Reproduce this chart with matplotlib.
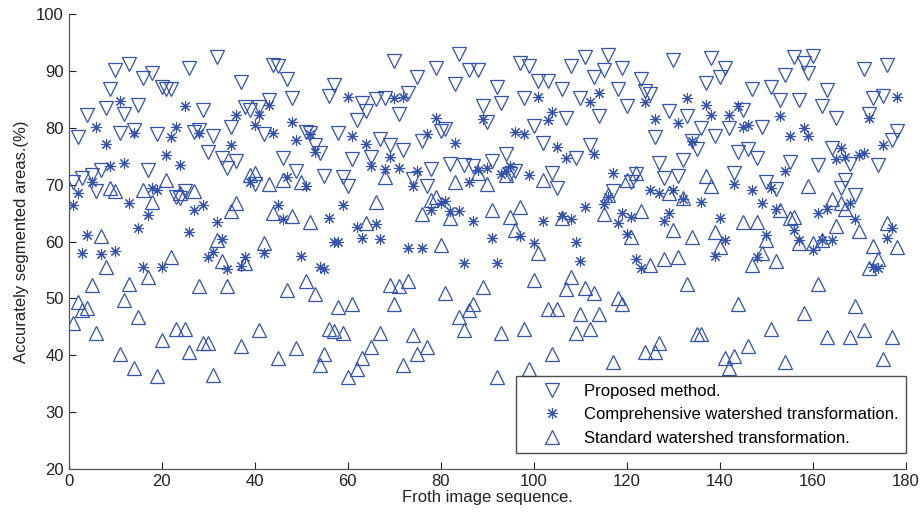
import numpy as np
import matplotlib
matplotlib.use("Agg")
import matplotlib.pyplot as plt

# =========================================================
# DATA
# =========================================================
proposed_x = [1, 2, 3, 4, 5, 6, 7, 8, 9, 10, 11, 12, 13, 14, 15, 16, 17, 18, 19, 20,
              21, 22, 23, 24, 25, 26, 27, 28, 29, 30, 31, 32, 33, 34, 35, 36, 37, 38, 39, 40,
              41, 42, 43, 44, 45, 46, 47, 48, 49, 51, 52, 53, 54, 55, 56, 57, 58, 59, 60,
              61, 62, 63, 64, 65, 66, 67, 68, 69, 70, 71, 72, 73, 74, 75, 76, 77, 78, 79, 80,
              81, 82, 83, 84, 85, 86, 87, 88, 89, 90, 91, 92, 93, 94, 95, 96, 97, 98, 99, 100,
              101, 102, 103, 104, 105, 106, 107, 108, 109, 110, 111, 112, 113, 114, 115, 116,
              117, 118, 119, 120, 121, 122, 123, 124, 125, 126, 127, 128, 129, 130, 131, 132,
              133, 134, 135, 136, 137, 138, 139, 140, 141, 142, 143, 144, 145, 146, 147, 148,
              149, 150, 151, 152, 153, 154, 155, 156, 157, 158, 159, 160, 161, 162, 163, 164,
              165, 166, 167, 168, 169, 171, 172, 173, 174, 175, 176, 177, 178]
proposed_y = [70.5, 78.4, 71.1, 82.3, 71.7, 68.8, 72.6, 83.5, 86.9, 90.2, 79.0, 82.5, 91.3, 79.6,
              84.0, 88.7, 72.6, 89.6, 78.9, 87.2,
              86.9, 86.9, 67.9, 67.6, 68.8, 90.6, 79.3, 79.6, 83.1, 75.8, 78.6, 92.5, 74.7, 72.9,
              80.2, 74.1, 88.1, 83.7, 83.1, 70.2,
              83.7, 78.9, 84.9, 91.0, 90.8, 74.7, 88.5, 85.2, 72.4, 79.3, 79.1, 77.0, 75.5, 71.6,
              85.6, 87.5, 79.1, 71.3, 69.8,
              74.5, 81.4, 84.3, 83.0, 74.9, 85.1, 78.0, 85.2, 77.0, 91.7, 82.4, 76.1, 86.2, 71.0,
              89.0, 77.7, 69.8, 72.7, 90.6, 79.5,
              79.8, 73.7, 87.7, 92.9, 73.5, 90.2, 73.2, 90.2, 83.8, 81.1, 74.1, 87.1, 84.4, 75.4,
              71.8, 72.4, 91.4, 85.2, 90.8, 80.3,
              88.2, 77.4, 88.2, 72.0, 69.5, 86.9, 81.8, 90.8, 74.7, 85.2, 92.5, 76.9, 88.9, 82.1,
              90.2, 92.8,
              68.8, 86.8, 90.5, 83.8, 70.5, 71.8, 88.6, 86.5, 86.0, 78.4, 73.8, 71.1, 83.0, 91.9,
              71.6, 74.3,
              82.1, 77.6, 76.3, 80.0, 87.8, 92.3, 78.6, 89.0, 90.6, 79.9, 72.0, 75.8, 83.1, 76.3,
              86.9, 74.7,
              80.2, 70.4, 87.2, 69.3, 84.9, 89.3, 73.9, 92.5, 84.9, 91.4, 89.7, 92.6, 73.5, 83.8,
              86.6, 76.4,
              81.8, 69.4, 70.8, 73.7, 68.2, 90.3, 82.4, 85.2, 73.5, 85.6, 91.0, 77.8, 79.5]

comprehensive_x = [1, 2, 3, 4, 5, 6, 7, 8, 9, 10, 11, 12, 13, 14, 15, 16, 17, 18, 19, 20,
                   21, 22, 23, 24, 25, 26, 27, 28, 29, 30, 31, 32, 33, 34, 35, 36, 37, 38, 39, 40,
                   41, 42, 43, 44, 45, 46, 47, 48, 49, 50, 51, 52, 53, 54, 55, 56, 57, 58, 59, 60,
                   61, 62, 63, 64, 65, 66, 67, 68, 69, 70, 71, 72, 73, 74, 75, 76, 77, 78, 79, 80,
                   81, 82, 83, 84, 85, 86, 87, 88, 89, 90, 91, 92, 93, 94, 95, 96, 97, 98, 99, 100,
                   101, 102, 103, 104, 105, 106, 107, 108, 109, 110, 111, 112, 113, 114, 115, 116,
                   117, 118, 119, 120, 121, 122, 123, 124, 125, 126, 127, 128, 129, 130, 131, 132,
                   133, 134, 136, 137, 138, 139, 140, 141, 142, 143, 144, 145, 146, 147, 148,
                   149, 150, 151, 152, 153, 154, 155, 156, 157, 158, 159, 160, 161, 162, 163, 164,
                   165, 166, 167, 168, 169, 170, 171, 172, 173, 174, 175, 176, 177, 178]
comprehensive_y = [66.4, 68.5, 57.9, 61.1, 70.5, 80.1, 57.8, 77.2, 73.3, 58.4, 84.8, 73.8, 66.7,
                   79.0, 62.3, 55.6, 64.6, 69.4, 69.1, 55.6,
                   75.2, 78.4, 80.1, 73.5, 83.9, 61.6, 65.5, 79.1, 66.4, 57.3, 58.1, 63.5, 60.4,
                   55.1, 76.9, 82.3, 55.7, 57.2, 70.4, 80.5,
                   82.3, 58.0, 84.0, 79.0, 66.4, 63.9, 71.3, 81.1, 77.9, 57.5, 69.8, 78.9, 75.8,
                   55.6, 55.1, 64.1, 60.0, 60.0, 66.4, 85.5,
                   78.5, 62.6, 60.6, 77.1, 73.3, 63.0, 60.4, 72.7, 74.9, 85.2, 72.9, 85.4, 58.9,
                   69.8, 72.4, 58.9, 78.9, 65.6, 81.7, 66.8,
                   67.1, 65.3, 77.3, 65.4, 56.2, 70.5, 63.7, 72.5, 81.5, 72.9, 60.7, 56.2, 71.8,
                   72.4, 73.2, 79.3, 60.9, 78.9, 71.7, 59.7,
                   85.5, 63.7, 81.4, 82.8, 76.6, 64.5, 74.7, 63.9, 60.0, 56.5, 66.1, 84.6, 75.4,
                   86.1, 66.6, 67.9,
                   72.0, 63.2, 65.0, 61.3, 64.4, 56.9, 55.3, 84.6, 69.0, 81.5, 68.6, 63.7, 65.1,
                   69.1, 80.9, 67.4,
                   85.2, 77.6, 66.9, 84.0, 82.3, 57.5, 64.1, 60.2, 82.3, 70.1, 83.9, 80.2, 80.5,
                   69.0, 57.3,
                   66.7, 61.1, 69.5, 65.8, 82.1, 72.4, 78.6, 62.0, 60.3, 79.9, 78.5, 58.6, 65.1,
                   60.3, 65.7, 60.3,
                   74.5, 76.5, 74.9, 66.8, 63.9, 75.3, 75.5, 81.8, 55.6, 55.3, 76.9, 60.7, 62.3,
                   85.4]

standard_x = list(range(1, 179))
standard_y = [45.6, 49.4, 48.0, 48.3, 52.4, 43.9, 60.9, 55.6, 69.4, 68.8, 40.3, 49.7, 52.6, 37.7,
              46.7, 69.1, 53.8, 67.0, 36.4, 42.7,
              70.8, 57.3, 44.7, 68.6, 44.6, 40.6, 68.8, 52.1, 42.1, 42.2, 36.5, 60.3, 56.6, 52.2,
              65.3, 66.8, 41.6, 56.2, 71.7, 72.0,
              44.4, 59.8, 70.2, 65.0, 39.5, 70.8, 51.5, 64.5, 41.2, 70.4, 53.0, 63.4, 50.7, 38.3,
              40.3, 44.6, 44.2, 48.5, 44.0, 36.2,
              49.1, 37.5, 39.6, 63.2, 41.4, 67.0, 44.0, 71.3, 52.4, 49.1, 52.2, 38.3, 53.1, 43.6,
              40.3, 64.9, 41.5, 67.3, 67.8, 59.4,
              50.9, 64.1, 70.4, 46.7, 44.5, 47.9, 49.1, 72.0, 52.0, 70.2, 65.5, 36.2, 44.0, 71.7,
              64.4, 62.1, 66.1, 44.7, 37.5, 53.3,
              57.9, 70.9, 48.1, 40.3, 48.1, 64.1, 51.6, 53.8, 43.9, 47.2, 51.8, 44.7, 51.0, 47.3,
              64.9, 68.2, 38.8, 50.1, 49.0, 70.8,
              60.8, 72.0, 65.4, 40.6, 55.8, 40.6, 42.1, 57.0, 68.5, 62.1, 57.3, 67.6, 52.6, 60.8,
              43.7, 43.7, 71.6, 69.8, 61.7, 59.1,
              39.5, 37.7, 39.8, 49.1, 63.5, 41.6, 55.9, 63.4, 57.9, 60.3, 44.7, 56.6, 65.6, 38.9,
              64.1, 64.4, 59.7, 47.4, 69.8, 59.8,
              52.5, 60.3, 43.2, 67.4, 62.7, 66.7, 65.7, 43.2, 48.7, 61.8, 44.5, 55.3, 59.3, 57.0,
              39.3, 63.3, 43.2, 59.0]

labels = ["Proposed method.",
          "Comprehensive watershed transformation.",
          "Standard watershed transformation."]

x_ticks = np.arange(0, 181, 20)
y_ticks = np.arange(20, 101, 10)

# =========================================================
# PLOT
# =========================================================
plt.rcParams["font.family"] = ["Liberation Sans", "DejaVu Sans"]
BLUE = "#3352ad"
TEXT = "#222222"

fig = plt.figure(figsize=(9.22, 5.17), dpi=100)
ax = fig.add_axes([0.0743, 0.0928, 0.9083, 0.880])

ax.plot(proposed_x, proposed_y, linestyle="none", marker="v", markersize=9.5,
        markerfacecolor="none", markeredgecolor=BLUE, markeredgewidth=0.9, label=labels[0])
ax.plot(comprehensive_x, comprehensive_y, linestyle="none", marker=(8, 2, 0), markersize=8,
        markeredgecolor=BLUE, color=BLUE, markeredgewidth=0.8, label=labels[1])
ax.plot(standard_x, standard_y, linestyle="none", marker="^", markersize=9.5,
        markerfacecolor="none", markeredgecolor=BLUE, markeredgewidth=0.9, label=labels[2])

ax.set_xlim(0, 180)
ax.set_ylim(20, 100)
ax.set_xticks(x_ticks)
ax.set_yticks(y_ticks)
ax.tick_params(direction="in", length=5, labelsize=12, colors=TEXT, width=0.8)

ax.spines["top"].set_visible(False)
ax.spines["right"].set_visible(False)
for s in ["left", "bottom"]:
    ax.spines[s].set_color("#555555")
    ax.spines[s].set_linewidth(0.9)

ax.set_xlabel("Froth image sequence.", fontsize=12, labelpad=1, color=TEXT)
ax.set_ylabel("Accurately segmented areas.(%)", fontsize=12, labelpad=5, color=TEXT)

leg = ax.legend(loc="lower right", bbox_to_anchor=(1.0, 0.035), borderaxespad=0,
                fontsize=12, frameon=True, fancybox=False, edgecolor=TEXT,
                handletextpad=0.15, borderpad=0.45, labelspacing=0.5, handlelength=3.5)
leg.get_frame().set_linewidth(1.0)

fig.savefig("out.png", dpi=100)
